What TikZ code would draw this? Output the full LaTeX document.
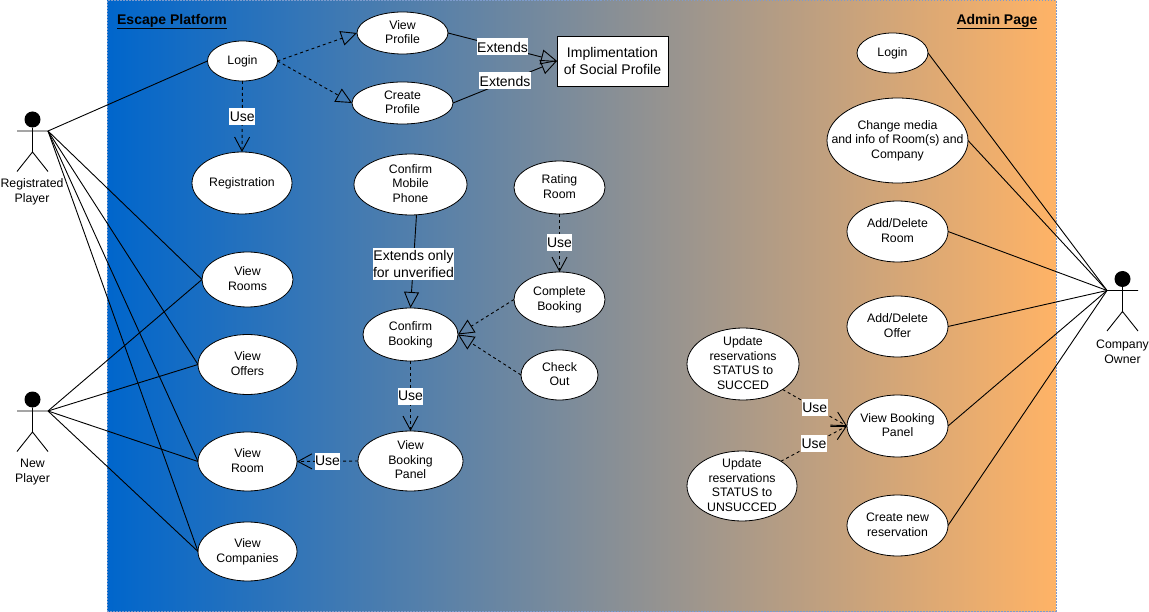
\documentclass[tikz,border=0pt]{standalone}
\usepackage{fontspec}
\setmainfont{Liberation Sans}
\definecolor{ucblue}{RGB}{0,102,204}
\definecolor{ucorange}{RGB}{255,179,102}
\definecolor{ucborder}{RGB}{125,155,205}
\usetikzlibrary{arrows.meta,positioning,shapes.geometric,calc}
\tikzset{
  usecase/.style={draw,line width=0.8pt,fill=white,ellipse,inner sep=-25pt,outer sep=0pt,text depth=2pt,
    font=\fontsize{12.3}{14.5}\selectfont,align=center},
  linkbox/.style={fill=white,inner xsep=0.5pt,minimum height=17pt,inner ysep=0pt,font=\fontsize{14}{17}\selectfont,align=center},
  titlelabel/.style={font=\fontsize{14}{17}\selectfont\bfseries,inner sep=0pt},
  actorhead/.style={circle,fill=black,minimum size=16pt,inner sep=0pt},
  actorlabel/.style={font=\fontsize{12.3}{15}\selectfont,align=center,inner sep=0pt},
  assoc/.style={line width=0.9pt},
  extendlink/.style={line width=0.9pt,-{Triangle[open,length=16pt,width=15pt]}},
  extenddash/.style={extendlink,dash pattern=on 3pt off 3pt},
  uselink/.style={line width=0.9pt,dash pattern=on 3pt off 3pt,-{Straight Barb[length=14pt,width=15pt]}}
}

\begin{document}
\begin{tikzpicture}[x=1pt,y=-1pt]
  \useasboundingbox (0,0) rectangle (1149,612);
  % Background
  \node[left color=ucblue,right color=ucorange,draw=ucborder,line width=1pt,dash pattern=on 1.5pt off 1.5pt,
    minimum width=949pt,minimum height=610pt,inner sep=0pt,outer sep=0pt] (platform) at (581.5,306) {};
  \node[titlelabel] (platformtitle) at (172,21.5) {\underline{Escape Platform}};
  \node[titlelabel] (admintitle) at (997,21.5) {\underline{Admin Page}};
  % Actors
  \foreach \actor/\x/\y in {reg/32.5/119.5,new/32.5/399.5,owner/1122.5/279} {
    \node[actorhead] (\actor head) at (\x,\y) {};
    \coordinate (\actor armL) at (\x-15.5,\y+11.5);
    \coordinate (\actor armR) at (\x+15.5,\y+11.5);
    \coordinate (\actor hip) at (\x,\y+32.5);
    \coordinate (\actor legL) at (\x-15.5,\y+52);
    \coordinate (\actor legR) at (\x+15.5,\y+52);
    \draw[assoc] (\actor armL) -- (\actor armR) (\actor head) -- (\actor hip)
      (\actor legL) -- (\actor hip) -- (\actor legR);
  }
  \node[actorlabel] (reglabel) at (32,192) {Registrated\\Player};
  \node[actorlabel] (newlabel) at (32.5,472.5) {New\\Player};
  \node[actorlabel] (ownerlabel) at (1122.5,352) {Company\\Owner};
  % Escape platform use cases
  \node[usecase,minimum width=70pt,minimum height=40pt] (login) at (242.5,61) {Login};
  \node[usecase,minimum width=91pt,minimum height=42pt] (viewprofile) at (402.5,33) {View\\Profile};
  \node[usecase,minimum width=101pt,minimum height=42pt] (createprofile) at (402.5,103) {Create\\Profile};
  \node[draw,line width=0.8pt,fill=white,minimum width=111pt,minimum height=50pt,inner sep=0pt,outer sep=0pt,
    font=\fontsize{14}{17}\selectfont,align=center] (socialprofile) at (612.5,61) {Implimentation\\of Social Profile};
  \node[usecase,minimum width=100pt,minimum height=62pt] (registration) at (242,183) {Registration};
  \node[usecase,minimum width=113pt,minimum height=61pt] (confirmphone) at (410.5,184.5) {Confirm\\Mobile\\Phone};
  \node[usecase,minimum width=91pt,minimum height=53pt] (ratingroom) at (559.5,187.5) {Rating\\Room};
  \node[usecase,minimum width=91pt,minimum height=55pt] (completebooking) at (559.5,299.5) {Complete\\Booking};
  \node[usecase,minimum width=77pt,minimum height=50pt] (checkout) at (559.5,375) {Check\\Out};
  \node[usecase,minimum width=95pt,minimum height=53pt] (confirmbooking) at (410.5,334.5) {Confirm\\Booking};
  \node[usecase,minimum width=105pt,minimum height=60pt] (bookingpanel) at (410.5,461) {View\\Booking\\Panel};
  \node[usecase,minimum width=91pt,minimum height=55pt] (viewrooms) at (247.5,279.5) {View\\Rooms};
  \node[usecase,minimum width=99pt,minimum height=60pt] (viewoffers) at (247.5,364.5) {View\\Offers};
  \node[usecase,minimum width=99pt,minimum height=59pt] (viewroom) at (247.5,461.5) {View\\Room};
  \node[usecase,minimum width=99pt,minimum height=59pt] (viewcompanies) at (247.5,551.5) {View\\Companies};
  % Admin page use cases
  \node[usecase,minimum width=71pt,minimum height=40pt] (adminlogin) at (892.5,53) {Login};
  \node[usecase,minimum width=141pt,minimum height=85pt] (changemedia) at (897.5,140.5) {Change media\\and info of Room(s) and\\Company};
  \node[usecase,minimum width=101pt,minimum height=61pt] (addroom) at (897.5,231.5) {Add/Delete\\Room};
  \node[usecase,minimum width=101pt,minimum height=61pt] (addoffer) at (897.5,326.5) {Add/Delete\\Offer};
  \node[usecase,minimum width=101pt,minimum height=62pt] (adminpanel) at (897.5,426) {View Booking\\Panel};
  \node[usecase,minimum width=101pt,minimum height=61pt] (newreservation) at (897.5,525.5) {Create new\\reservation};
  \node[usecase,minimum width=112pt,minimum height=72pt] (updatesucc) at (743,364) {Update\\reservations\\STATUS to\\SUCCED};
  \node[usecase,minimum width=110pt,minimum height=70pt] (updateunsucc) at (742,486) {Update\\reservations\\STATUS to\\UNSUCCED};
  % Actor associations
  \draw[assoc] (regarmR) -- (login.west);
  \foreach \target in {viewrooms,viewoffers,viewroom,viewcompanies} {
    \draw[assoc] (regarmR) -- (\target.west);
    \draw[assoc] (newarmR) -- (\target.west);
  }
  \foreach \target in {adminlogin,changemedia,addroom,addoffer,adminpanel,newreservation} {
    \draw[assoc] (ownerarmL) -- (\target.east);
  }
  % Extends
  \draw[extenddash] (login.east) -- (viewprofile.west);
  \draw[extenddash] (login.east) -- (createprofile.west);
  \draw[extendlink] (viewprofile.east) -- node[linkbox]{Extends} (socialprofile.west);
  \draw[extendlink] (createprofile.east) -- node[linkbox,yshift=1pt]{Extends} (socialprofile.west);
  \draw[extendlink] ([xshift=6pt]confirmphone.south) -- node[linkbox,yshift=-2.5pt,inner ysep=2pt]{Extends only\\for unverified} (confirmbooking.north);
  \draw[extenddash] (completebooking.west) -- (confirmbooking.east);
  \draw[extenddash] (checkout.west) -- (confirmbooking.east);
  % Use
  \draw[uselink] (login.south) -- node[linkbox]{Use} (registration.north);
  \draw[uselink] (ratingroom.south) -- node[linkbox]{Use} (completebooking.north);
  \draw[uselink] (confirmbooking.south) -- node[linkbox]{Use} (bookingpanel.north);
  \draw[uselink] (bookingpanel.west) -- node[linkbox]{Use} (viewroom.east);
  \draw[uselink] (updatesucc.south east) -- node[linkbox]{Use} (adminpanel.west);
  \draw[uselink] (updateunsucc.north east) -- node[linkbox]{Use} (adminpanel.west);
\end{tikzpicture}
\end{document}
